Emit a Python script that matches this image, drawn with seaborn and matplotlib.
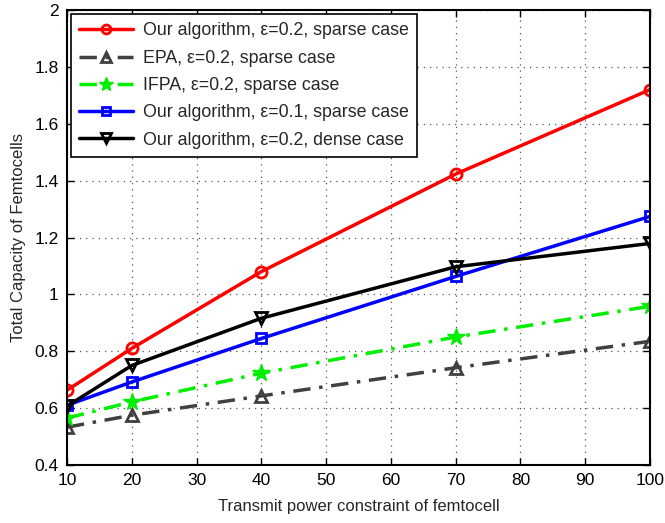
import matplotlib
matplotlib.use("Agg")
import matplotlib.pyplot as plt
import seaborn as sns
import pandas as pd

x_power = [10, 20, 40, 70, 100]
our_e02_sparse = [0.663, 0.81, 1.08, 1.423, 1.72]
epa_e02_sparse = [0.533, 0.575, 0.643, 0.742, 0.835]
ifpa_e02_sparse = [0.565, 0.622, 0.723, 0.85, 0.958]
our_e01_sparse = [0.61, 0.692, 0.845, 1.063, 1.274]
our_e02_dense = [0.607, 0.75, 0.916, 1.097, 1.179]

labels = [
    "Our algorithm, ε=0.2, sparse case",
    "EPA, ε=0.2, sparse case",
    "IFPA, ε=0.2, sparse case",
    "Our algorithm, ε=0.1, sparse case",
    "Our algorithm, ε=0.2, dense case",
]
series = [our_e02_sparse, epa_e02_sparse, ifpa_e02_sparse, our_e01_sparse, our_e02_dense]

sns.set_theme(style="white")
plt.rcParams['font.family'] = ['Liberation Sans', 'DejaVu Sans']

fig = plt.figure(figsize=(6.65, 5.23), dpi=100)
ax = fig.add_axes([67/665, 1 - 465/523, (650-67)/665, (465-10)/523])

styles = [
    dict(color="#ff0000", marker="o", ls="-", mfc="none", ms=8, mew=2),
    dict(color="#404040", marker="^", ls=(0, (5, 2.5, 1, 2.5)), mfc="none", ms=8.5, mew=2),
    dict(color="#00ee00", marker="*", ls=(0, (5, 2.5, 1, 2.5)), mfc="#00ee00", ms=13, mew=1),
    dict(color="#0000ff", marker="s", ls="-", mfc="none", ms=6.5, mew=2),
    dict(color="#000000", marker="v", ls="-", mfc="none", ms=8.5, mew=2),
]

for lab, vals, st in zip(labels, series, styles):
    df = pd.DataFrame({"x": x_power, "y": vals})
    sns.lineplot(data=df, x="x", y="y", ax=ax, label=lab, color=st["color"],
                 linestyle=st["ls"], linewidth=2.5, marker=st["marker"],
                 markerfacecolor=st["mfc"], markeredgecolor=st["color"],
                 markersize=st["ms"], markeredgewidth=st["mew"])

ax.set_xlim(10, 100)
ax.set_ylim(0.4, 2.0)
ax.set_xticks([10, 20, 30, 40, 50, 60, 70, 80, 90, 100])
ax.set_yticks([0.4, 0.6, 0.8, 1.0, 1.2, 1.4, 1.6, 1.8, 2.0])
ax.set_yticklabels(["0.4", "0.6", "0.8", "1", "1.2", "1.4", "1.6", "1.8", "2"])
ax.grid(True, linestyle=(0, (1, 4)), color="#555555", linewidth=0.9)
ax.tick_params(direction="in", length=5, width=1, labelsize=12.5, colors="black",
               top=True, right=True, bottom=True, left=True, pad=6)
for sp in ax.spines.values():
    sp.set_visible(True)
    sp.set_color("black")
    sp.set_linewidth(1.5)

ax.set_xlabel("Transmit power constraint of femtocell", fontsize=12, labelpad=8)
ax.set_ylabel("Total Capacity of Femtocells", fontsize=12, labelpad=6)

leg = ax.legend(loc="upper left", fontsize=12.8, frameon=True, fancybox=False,
                edgecolor="black", framealpha=1, handlelength=3.0,
                borderaxespad=0.25, labelspacing=0.58, borderpad=0.45,
                handletextpad=0.6, markerscale=0.8)
leg.get_frame().set_linewidth(1.2)

fig.savefig("out.png", dpi=100)
